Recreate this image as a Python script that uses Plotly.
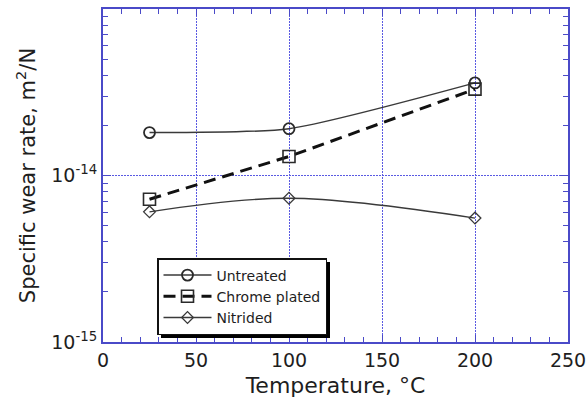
import plotly.graph_objects as go

# Specific wear rate vs. test temperature
temperature = [25, 100, 200]
untreated = [1.81e-14, 1.91e-14, 3.60e-14]
chrome_plated = [7.2e-15, 1.30e-14, 3.30e-14]
nitrided = [6.05e-15, 7.3e-15, 5.55e-15]

x_ticks = [0, 50, 100, 150, 200, 250]
y_ticks = [1e-15, 1e-14]
y_tick_text = ["10<sup>-15</sup>", "10<sup>-14</sup>"]

AXIS_BLUE = "#4a4ac8"
GRID_BLUE = "#5a5ae2"
TEXT = "#1e1e1e"
FONT = "DejaVu Sans"

W, H = 588, 401
L, R, T, B = 103, 20, 9, 59
pw, ph = W - L - R, H - T - B

fig = go.Figure()
fig.add_trace(go.Scatter(
    x=temperature, y=untreated, name="Untreated", mode="lines+markers",
    line=dict(color="#3a3a3a", width=1.5, shape="spline", smoothing=0.6),
    marker=dict(symbol="circle-open", size=11, color="#2a2a2a", line=dict(width=1.8)),
))
fig.add_trace(go.Scatter(
    x=temperature, y=chrome_plated, name="Chrome plated", mode="lines+markers",
    line=dict(color="#111111", width=3, dash="12px,7px"),
    marker=dict(symbol="square-open", size=12, color="#2a2a2a", line=dict(width=1.6)),
))
fig.add_trace(go.Scatter(
    x=temperature, y=nitrided, name="Nitrided", mode="lines+markers",
    line=dict(color="#3a3a3a", width=1.3, shape="spline", smoothing=1.0),
    marker=dict(symbol="diamond-open", size=9, color="#3a3a3a", line=dict(width=1.3)),
))

minor_y = [k * 10.0 ** e for e in (-15, -14) for k in range(2, 10)]

fig.update_xaxes(
    range=[0, 250], tickvals=x_ticks, ticks="inside", ticklen=7, tickcolor=AXIS_BLUE,
    showline=True, linecolor=AXIS_BLUE, linewidth=2, mirror="allticks",
    showgrid=True, gridcolor=GRID_BLUE, griddash="2px,1px", gridwidth=1.1,
    zeroline=False, tickfont=dict(family=FONT, size=19, color=TEXT),
    minor=dict(dtick=10, ticks="inside", ticklen=5, tickcolor=AXIS_BLUE, showgrid=False),
    title=dict(text="Temperature, °C", font=dict(family=FONT, size=22, color=TEXT), standoff=8),
    automargin=False,
)
fig.update_yaxes(
    type="log", range=[-15, -13.0], tickvals=y_ticks, ticktext=y_tick_text,
    ticks="inside", ticklen=8, tickcolor=AXIS_BLUE,
    showline=True, linecolor=AXIS_BLUE, linewidth=2, mirror="allticks",
    showgrid=True, gridcolor=GRID_BLUE, griddash="2px,1px", gridwidth=1.1,
    zeroline=False, tickfont=dict(family=FONT, size=19, color=TEXT),
    minor=dict(tickvals=minor_y, ticks="inside", ticklen=5, tickcolor=AXIS_BLUE, showgrid=False),
    title=dict(text="Specific wear rate, m<sup>2</sup>/N", font=dict(family=FONT, size=21, color=TEXT), standoff=10),
    automargin=False,
)

# legend box (pixel bounds) with a drop shadow behind it
box = (157, 258, 326, 334)
sh = 4
fig.add_shape(
    type="rect", xref="paper", yref="paper",
    x0=(box[0] + sh - L) / pw, x1=(box[2] + sh - L) / pw,
    y0=1 - (box[3] + sh - T) / ph, y1=1 - (box[1] + sh - T) / ph,
    fillcolor="black", line=dict(width=0), layer="above",
)

fig.update_layout(
    width=W, height=H, margin=dict(l=L, r=R, t=T, b=B),
    paper_bgcolor="white", plot_bgcolor="white",
    showlegend=True,
    legend=dict(
        x=(box[0] - L) / pw, y=1 - (box[1] - T) / ph, xanchor="left", yanchor="top",
        bgcolor="white", bordercolor="#111111", borderwidth=1.5,
        font=dict(family=FONT, size=14, color=TEXT),
        tracegroupgap=0, itemwidth=48,
    ),
)

fig.write_html("out.html")
